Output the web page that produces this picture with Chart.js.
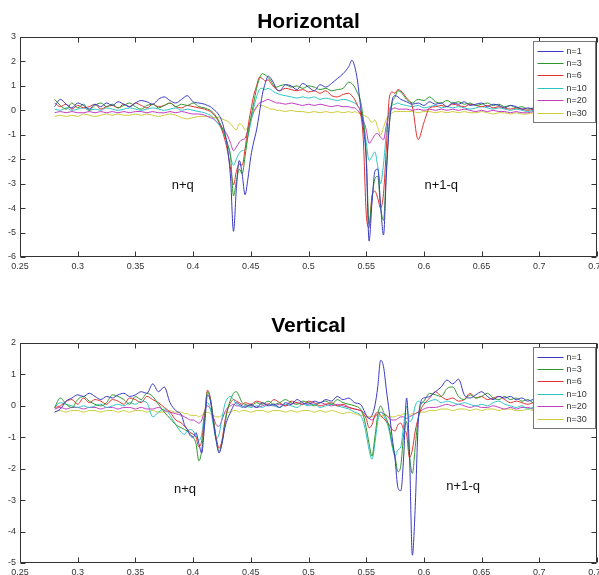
<!DOCTYPE html>
<html><head><meta charset="utf-8">
<script src="https://cdn.jsdelivr.net/npm/chart.js@4.4.1/dist/chart.umd.min.js"></script>
<style>
html,body{margin:0;padding:0;background:#fff;width:599px;height:575px;overflow:hidden}
.box{position:absolute;left:0;width:599px}
canvas{display:block}
</style></head><body>
<div class="box" style="top:0;height:290px"><canvas id="c1" width="599" height="290"></canvas></div>
<div class="box" style="top:290px;height:285px"><canvas id="c2" width="599" height="285"></canvas></div>
<script>
// ---------- shared ----------
const seriesLabels = ['n=1','n=3','n=6','n=10','n=20','n=30'];
const seriesColors = ['#3a3ac4','#2e962e','#e03030','#2ec4c4','#c23cc2','#cccc3a'];
const xTickMin = 0.25, xTickMax = 0.75, xTickStep = 0.05;

// ---------- Horizontal ----------
const xH = [0.280,0.285,0.290,0.295,0.300,0.305,0.310,0.315,0.320,0.325,0.330,0.335,0.340,0.345,0.350,0.355,0.360,0.365,0.370,0.375,0.380,0.385,0.390,0.395,0.400,0.405,0.410,
0.4125,0.415,0.4175,0.420,0.4225,0.425,0.4275,0.430,0.4325,0.435,0.4375,0.440,0.4425,0.445,0.4475,0.450,0.4525,0.455,0.4575,0.460,0.4625,0.465,0.4675,0.470,0.4725,
0.475,0.480,0.485,0.490,0.495,0.500,0.505,0.510,0.515,0.520,0.525,0.530,0.535,
0.5375,0.540,0.5425,0.545,0.5475,0.550,0.5525,0.555,0.5575,0.560,0.5625,0.565,0.5675,0.570,0.5725,0.575,0.5775,0.580,
0.585,0.590,0.595,0.600,0.605,0.610,0.615,0.620,0.625,0.630,0.635,0.640,0.645,0.650,0.655,0.660,0.665,0.670,0.675,0.680,0.685,0.690,0.695,0.700,0.705,0.710,0.715,0.720];
const hN1 = [0.15,0.45,0.25,0.10,0.30,0.20,0.05,0.25,0.15,0.30,0.20,0.35,0.25,0.15,0.30,0.40,0.35,0.25,0.45,0.55,0.40,0.30,0.45,0.60,0.35,0.30,0.25,
0.20,0.15,0.05,-0.05,-0.20,-0.45,-0.90,-1.60,-2.80,-4.95,-3.20,-2.05,-2.60,-3.45,-2.80,-1.90,-1.30,-0.80,-0.10,0.65,1.10,1.40,1.30,1.10,0.85,
0.80,1.05,1.00,0.85,1.10,0.95,0.80,1.05,0.95,1.10,1.30,1.50,1.80,
2.05,1.80,1.20,0.20,-0.70,-2.00,-5.35,-3.80,-2.50,-2.40,-3.90,-5.10,-2.60,-0.60,0.40,0.60,0.55,0.45,
0.35,0.25,0.30,0.20,0.35,0.25,0.30,0.15,0.30,0.25,0.35,0.20,0.25,0.30,0.15,0.25,0.20,0.10,0.20,0.15,0.05,0.10,0.05,0.00,0.05,0.00,-0.05,0.00];
const hN3 = [0.45,0.20,0.05,0.30,0.10,0.25,0.00,0.20,0.30,0.15,0.25,0.10,0.20,0.30,0.15,0.05,0.20,0.25,0.10,0.20,0.30,0.15,0.25,0.20,0.30,0.15,0.10,
0.05,0.00,-0.10,-0.25,-0.45,-0.70,-1.00,-1.40,-1.90,-3.50,-2.90,-2.40,-2.60,-1.90,-1.00,-0.30,0.30,0.90,1.30,1.50,1.45,1.35,1.20,1.00,0.95,
1.00,1.05,0.95,1.00,0.90,1.00,0.95,0.85,0.90,0.80,0.85,0.90,1.15,
1.10,0.95,0.70,0.40,-0.40,-1.80,-4.65,-3.60,-2.80,-2.70,-4.00,-4.50,-2.40,-0.60,0.30,0.55,0.80,0.75,
0.45,0.30,0.45,0.40,0.55,0.35,0.30,0.40,0.30,0.35,0.25,0.30,0.20,0.25,0.30,0.20,0.25,0.15,0.20,0.10,0.15,0.05,0.10,0.00,0.05,-0.05,0.00,0.00];
const hN6 = [0.30,0.15,0.25,0.05,0.20,0.10,0.15,0.25,0.05,0.15,0.20,0.10,0.25,0.15,0.30,0.20,0.10,0.25,0.15,0.20,0.30,0.15,0.10,0.20,0.15,0.10,0.05,
0.00,-0.05,-0.15,-0.30,-0.50,-0.80,-1.20,-1.70,-2.40,-3.05,-2.50,-2.20,-2.25,-1.60,-0.70,0.00,0.60,1.00,1.35,1.30,1.20,1.25,1.10,0.95,0.85,
0.80,0.90,0.85,0.80,0.85,0.75,0.80,0.70,0.80,0.60,0.55,0.65,0.70,
0.60,0.45,0.20,-0.10,-1.20,-4.20,-4.80,-3.50,-3.30,-3.60,-4.00,-3.40,-1.50,0.50,0.75,0.70,0.85,0.80,
0.50,0.15,-1.20,-0.50,0.10,0.15,0.20,0.15,0.25,0.20,0.15,0.25,0.20,0.15,0.20,0.10,0.15,0.10,0.05,0.10,0.05,0.00,0.05,0.00,-0.05,0.00,-0.05,-0.05];
const hN10 = [0.05,0.00,0.10,0.00,0.05,0.10,0.00,0.05,0.00,0.10,0.05,0.00,0.05,0.10,0.05,0.00,0.05,0.10,0.05,0.00,0.05,0.10,0.00,0.05,0.00,-0.05,-0.10,
-0.15,-0.20,-0.30,-0.45,-0.60,-0.80,-1.05,-1.40,-1.90,-2.25,-2.00,-1.75,-1.65,-1.60,-1.10,-0.50,0.10,0.55,0.85,0.90,0.85,0.90,0.85,0.75,0.70,
0.65,0.60,0.55,0.50,0.55,0.50,0.55,0.45,0.50,0.45,0.40,0.45,0.40,
0.35,0.30,0.20,0.00,-0.40,-1.30,-2.05,-1.90,-1.70,-2.30,-3.00,-2.20,-0.90,0.00,0.20,0.25,0.30,0.25,
0.20,0.15,0.20,0.10,0.15,0.20,0.10,0.15,0.10,0.15,0.10,0.05,0.10,0.15,0.10,0.05,0.10,0.05,0.00,0.05,0.00,-0.05,0.00,-0.05,-0.10,-0.05,-0.10,-0.10];
const hN20 = [-0.10,-0.05,-0.10,-0.05,-0.10,-0.10,-0.05,-0.10,-0.05,-0.10,-0.05,-0.10,-0.05,-0.10,-0.05,-0.05,-0.10,-0.05,-0.10,-0.10,-0.05,-0.10,-0.05,-0.10,-0.15,-0.15,-0.20,
-0.25,-0.30,-0.35,-0.45,-0.55,-0.70,-0.85,-1.05,-1.35,-1.65,-1.50,-1.30,-1.20,-1.15,-0.80,-0.40,-0.05,0.15,0.30,0.35,0.40,0.45,0.40,0.35,0.30,
0.30,0.25,0.30,0.25,0.20,0.25,0.20,0.25,0.20,0.15,0.20,0.15,0.15,
0.10,0.10,0.00,-0.15,-0.40,-0.80,-1.35,-1.20,-1.00,-0.95,-1.10,-1.20,-0.60,-0.10,0.05,0.10,0.05,0.05,
0.05,0.00,0.05,0.00,0.05,0.00,0.05,0.00,0.05,0.00,0.05,0.00,-0.05,0.00,-0.05,0.00,-0.05,-0.05,-0.10,-0.05,-0.10,-0.10,-0.05,-0.10,-0.10,-0.15,-0.10,-0.10];
const hN30 = [-0.25,-0.20,-0.25,-0.20,-0.25,-0.15,-0.20,-0.25,-0.20,-0.15,-0.20,-0.15,-0.20,-0.20,-0.15,-0.20,-0.15,-0.20,-0.25,-0.20,-0.15,-0.20,-0.30,-0.35,-0.30,-0.25,-0.25,
-0.25,-0.25,-0.30,-0.30,-0.30,-0.35,-0.40,-0.45,-0.55,-0.70,-0.80,-0.55,-0.60,-0.80,-0.70,-0.40,-0.10,0.10,0.20,0.20,0.15,0.10,0.05,0.05,0.00,
0.00,-0.05,0.00,-0.05,-0.05,-0.10,-0.05,-0.10,-0.05,-0.10,-0.05,-0.10,-0.05,
-0.10,-0.05,-0.10,-0.15,-0.20,-0.25,-0.35,-0.50,-0.40,-0.70,-1.00,-0.70,-0.35,-0.20,-0.10,-0.05,-0.05,-0.05,
-0.05,-0.05,-0.10,-0.05,-0.05,-0.10,-0.05,-0.10,-0.05,-0.10,-0.05,-0.10,-0.10,-0.05,-0.10,-0.15,-0.10,-0.10,-0.15,-0.10,-0.15,-0.15,-0.10,-0.15,-0.15,-0.10,-0.15,-0.15];
const yTicksH = {min:-6, max:3, step:1};
const notesH = [{text:'n+q', x:0.391, y:-3.07},{text:'n+1-q', x:0.615, y:-3.07}];

// ---------- Vertical ----------
const xV = [0.280,0.285,0.290,0.295,0.300,0.305,0.310,0.315,0.320,0.325,0.330,0.335,0.340,0.345,0.350,0.355,0.360,0.365,0.370,0.375,0.380,0.385,0.390,
0.3925,0.395,0.3975,0.400,0.4025,0.405,0.4075,0.410,0.4125,0.415,0.4175,0.420,0.4225,0.425,0.4275,0.430,0.4325,0.435,0.4375,0.440,0.4425,0.445,
0.450,0.455,0.460,0.465,0.470,0.475,0.480,0.485,0.490,0.495,0.500,0.505,0.510,0.515,0.520,0.525,0.530,0.535,0.540,0.545,
0.5475,0.550,0.5525,0.555,0.5575,0.560,0.5625,0.565,0.5675,0.570,0.5725,0.575,0.5775,0.580,0.5825,0.585,0.5875,0.590,0.5925,0.595,0.5975,0.600,
0.605,0.610,0.615,0.620,0.625,0.630,0.635,0.640,0.645,0.650,0.655,0.660,0.665,0.670,0.675,0.680,0.685,0.690,0.695,0.700,0.705,0.710,0.715,0.720];
const vN1 = [-0.20,-0.10,0.15,0.25,0.35,0.30,0.40,0.30,0.20,0.30,0.25,0.35,0.40,0.30,0.35,0.45,0.40,0.70,0.45,0.60,0.10,-0.15,-0.30,
-0.60,-0.75,-0.95,-1.00,-0.85,-1.20,-1.50,-0.60,0.35,0.15,-0.50,-1.10,-1.50,-1.20,-0.70,-0.40,-0.20,0.00,0.10,0.05,0.00,-0.05,
0.05,-0.05,0.10,0.00,0.05,-0.05,0.10,0.05,0.20,0.10,0.05,0.15,0.10,0.20,0.15,0.30,0.20,0.25,0.10,0.05,
-0.10,-0.30,-0.40,-0.30,0.00,0.60,1.45,1.25,0.50,-0.20,-1.00,-1.70,-2.60,-2.70,-1.60,0.25,-1.50,-4.75,-3.20,-0.60,0.15,0.25,
0.30,0.45,0.60,0.82,0.70,0.85,0.35,0.25,0.35,0.45,0.30,0.20,0.30,0.25,0.30,0.20,0.25,0.15,0.20,0.15,0.10,0.15,0.05,0.10];
const vN3 = [-0.05,0.25,0.05,-0.05,0.20,0.30,0.15,0.05,0.00,0.10,0.35,0.30,0.20,0.05,0.30,0.20,0.40,0.30,0.05,-0.20,-0.40,-0.60,-0.70,
-0.75,-0.80,-0.90,-1.00,-1.20,-1.75,-1.40,-0.40,0.45,0.20,-0.40,-1.10,-1.45,-1.20,-0.60,-0.10,0.20,0.40,0.45,0.30,0.10,0.05,
0.00,0.10,0.05,0.15,0.05,0.10,0.20,0.10,0.05,0.15,0.10,0.00,0.10,0.15,0.05,0.20,0.10,0.05,0.00,-0.10,
-0.30,-0.70,-1.20,-1.60,-1.00,-0.30,0.00,-0.20,-0.40,-0.70,-1.20,-1.60,-2.10,-1.90,-0.90,-0.50,-1.60,-2.15,-1.30,-0.40,0.05,0.15,
0.40,0.35,0.30,0.55,0.60,0.30,0.20,0.35,0.25,0.30,0.40,0.25,0.20,0.30,0.20,0.25,0.15,0.20,0.10,0.15,0.05,0.10,0.05,0.05];
const vN6 = [-0.05,0.00,0.15,0.20,0.05,0.25,0.10,0.20,0.15,0.05,0.20,0.15,0.05,0.25,0.20,0.10,0.30,0.20,0.10,-0.05,-0.20,-0.45,-0.55,
-0.65,-0.75,-0.85,-0.90,-1.00,-1.30,-1.10,-0.30,0.50,0.25,-0.40,-1.00,-1.35,-1.10,-0.50,-0.10,0.10,0.20,0.15,0.10,0.05,0.10,
0.05,0.15,0.10,0.05,0.20,0.10,0.00,0.15,0.10,0.05,0.15,0.10,0.00,0.05,0.10,0.00,0.05,-0.05,-0.10,-0.15,
-0.25,-0.40,-0.70,-0.60,-0.30,-0.20,-0.30,-0.40,-0.50,-0.60,-0.75,-0.80,-0.60,-0.55,-0.75,-0.90,-1.65,-1.40,-0.80,-0.40,-0.10,0.05,
0.25,0.45,0.30,0.20,0.25,0.15,0.20,0.40,0.25,0.30,0.20,0.25,0.30,0.20,0.10,0.15,0.10,0.05,0.10,0.05,0.10,0.00,0.05,0.00];
const vN10 = [-0.05,0.10,0.05,0.00,-0.05,0.00,-0.05,0.00,0.05,-0.05,0.00,0.05,0.00,0.10,0.05,0.15,0.10,-0.35,-0.20,-0.10,-0.30,-0.60,-0.85,
-0.90,-0.80,-0.75,-0.80,-0.95,-1.10,-0.90,-0.20,0.10,-0.10,-0.60,-1.05,-0.90,-0.40,0.05,0.25,0.30,0.20,0.05,0.00,-0.05,0.00,
-0.05,0.00,-0.05,0.05,0.00,-0.05,0.05,0.00,-0.05,0.05,0.00,0.05,-0.05,0.00,0.05,0.00,-0.05,-0.10,-0.20,-0.30,
-0.50,-0.90,-1.40,-1.70,-1.20,-0.50,-0.20,-0.30,-0.50,-0.80,-1.30,-1.60,-1.40,-1.30,-0.60,0.00,-0.50,-0.40,0.00,0.15,0.10,0.10,
0.15,0.20,0.10,0.15,0.10,0.05,0.10,0.05,0.00,0.05,0.00,0.10,0.15,0.05,0.00,-0.05,0.00,-0.10,-0.05,-0.10,-0.05,-0.10,-0.05,-0.10];
const vN20 = [-0.10,-0.05,-0.10,-0.05,-0.05,-0.10,-0.05,-0.05,-0.10,-0.05,-0.05,-0.10,-0.05,-0.05,-0.10,-0.05,-0.10,-0.10,-0.05,-0.15,-0.20,-0.25,-0.30,
-0.35,-0.40,-0.45,-0.45,-0.50,-0.55,-0.45,-0.15,0.00,-0.10,-0.35,-0.60,-0.65,-0.45,-0.20,-0.05,0.00,0.05,0.00,0.00,-0.05,0.00,
0.00,-0.05,0.00,0.05,0.00,0.05,0.00,0.05,0.10,0.05,0.10,0.05,0.10,0.05,0.00,0.05,0.00,-0.05,-0.10,-0.15,
-0.20,-0.30,-0.40,-0.45,-0.35,-0.25,-0.20,-0.25,-0.30,-0.40,-0.45,-0.45,-0.40,-0.35,-0.35,-0.40,-0.35,-0.30,-0.25,-0.20,-0.15,-0.10,
-0.05,-0.05,0.00,0.05,0.00,0.05,0.00,-0.05,0.00,-0.05,-0.05,0.00,-0.05,-0.10,-0.05,-0.10,-0.05,-0.05,-0.10,-0.05,-0.10,-0.05,-0.10,-0.05];
const vN30 = [-0.20,-0.15,-0.20,-0.15,-0.15,-0.20,-0.15,-0.15,-0.20,-0.15,-0.15,-0.20,-0.15,-0.20,-0.15,-0.15,-0.20,-0.15,-0.20,-0.20,-0.15,-0.20,-0.20,
-0.25,-0.25,-0.30,-0.30,-0.30,-0.35,-0.30,-0.25,-0.20,-0.25,-0.30,-0.35,-0.35,-0.30,-0.25,-0.20,-0.20,-0.15,-0.15,-0.20,-0.15,-0.15,
-0.20,-0.15,-0.15,-0.20,-0.15,-0.15,-0.20,-0.15,-0.20,-0.15,-0.15,-0.20,-0.15,-0.20,-0.15,-0.20,-0.25,-0.20,-0.25,-0.30,
-0.30,-0.35,-0.35,-0.35,-0.30,-0.30,-0.35,-0.30,-0.30,-0.35,-0.35,-0.35,-0.30,-0.30,-0.25,-0.25,-0.30,-0.25,-0.25,-0.20,-0.20,-0.20,
-0.15,-0.15,-0.10,-0.10,-0.15,-0.10,-0.10,-0.15,-0.10,-0.15,-0.10,-0.10,-0.15,-0.10,-0.10,-0.15,-0.15,-0.10,-0.15,-0.15,-0.20,-0.15,-0.15,-0.20];
const yTicksV = {min:-5, max:2, step:1};
const notesV = [{text:'n+q', x:0.393, y:-2.67},{text:'n+1-q', x:0.634, y:-2.56}];

// ---------- plugin: frame, inward ticks, legend, notes, title ----------
const matlabPlugin = {
  id: 'matlab',
  afterDatasetsDraw(chart, args, o) {
    const {ctx, chartArea: a, scales: {x, y}} = chart;
    const L = Math.round(a.left) + 0.5, R = Math.round(a.right) - 0.5;
    const T = Math.round(a.top) + 0.5, B = Math.round(a.bottom) - 0.5;
    ctx.save();
    ctx.strokeStyle = '#333'; ctx.lineWidth = 1;
    ctx.beginPath();
    ctx.rect(L, T, R - L, B - T);
    x.ticks.forEach(t => {
      const px = Math.round(x.getPixelForValue(t.value)) + 0.5;
      ctx.moveTo(px, B); ctx.lineTo(px, B - 5);
      ctx.moveTo(px, T); ctx.lineTo(px, T + 5);
    });
    y.ticks.forEach(t => {
      const py = Math.round(y.getPixelForValue(t.value)) + 0.5;
      ctx.moveTo(L, py); ctx.lineTo(L + 5, py);
      ctx.moveTo(R, py); ctx.lineTo(R - 5, py);
    });
    ctx.stroke();
    // notes
    ctx.fillStyle = '#111';
    ctx.font = '13px "Liberation Sans", Arial, sans-serif';
    ctx.textAlign = 'center'; ctx.textBaseline = 'middle';
    (o.notes || []).forEach(n => ctx.fillText(n.text, x.getPixelForValue(n.x), y.getPixelForValue(n.y)));
    // legend
    const bw = 62, bh = 81;
    const bx = Math.round(a.right) - 64 + 0.5, by = Math.round(a.top) + 4 + 0.5;
    ctx.fillStyle = '#fff';
    ctx.fillRect(bx, by, bw, bh);
    ctx.strokeStyle = '#777';
    ctx.strokeRect(bx, by, bw, bh);
    ctx.font = '9px "Liberation Sans", Arial, sans-serif';
    ctx.textAlign = 'left'; ctx.textBaseline = 'middle';
    chart.data.datasets.forEach((ds, i) => {
      const ly = Math.round(by + 9 + i * 12.4) + 0.5;
      ctx.strokeStyle = ds.borderColor; ctx.lineWidth = 1;
      ctx.beginPath(); ctx.moveTo(bx + 4, ly); ctx.lineTo(bx + 30, ly); ctx.stroke();
      ctx.fillStyle = '#333';
      ctx.fillText(ds.label, bx + 33, ly);
    });
    // title
    ctx.fillStyle = '#000';
    ctx.font = 'bold 21px "Liberation Sans", Arial, sans-serif';
    ctx.textAlign = 'center'; ctx.textBaseline = 'alphabetic';
    ctx.fillText(o.title, (a.left + a.right) / 2, o.titleY);
    ctx.restore();
  }
};

function makeChart(id, xs, series, yT, notes, title, titleY, padTop, xAxisH) {
  const datasets = series.map((ys, i) => ({
    label: seriesLabels[i],
    data: xs.map((xv, j) => ({x: xv, y: ys[j]})),
    borderColor: seriesColors[i],
    borderWidth: 1,
    pointRadius: 0,
    fill: false,
    cubicInterpolationMode: 'monotone'
  }));
  return new Chart(document.getElementById(id), {
    type: 'line',
    data: {datasets},
    plugins: [matlabPlugin],
    options: {
      responsive: false, animation: false, devicePixelRatio: 1,
      layout: {padding: {top: padTop, left: 0, right: 2, bottom: 0}},
      plugins: {legend: {display: false}, tooltip: {enabled: false}, title: {display: false},
        matlab: {notes, title, titleY}},
      scales: {
        x: {
          type: 'linear', min: xTickMin, max: xTickMax,
          grid: {display: false, drawTicks: false}, border: {display: false},
          ticks: {stepSize: xTickStep, autoSkip: false, maxRotation: 0, padding: 4, color: '#333',
            font: {size: 9, family: '"Liberation Sans", Arial, sans-serif'},
            callback: v => String(Number(v.toFixed(2)))},
          afterFit: s => { s.height = xAxisH; s.paddingLeft = 0; s.paddingRight = 0; }
        },
        y: {
          type: 'linear', min: yT.min, max: yT.max,
          grid: {display: false, drawTicks: false}, border: {display: false},
          ticks: {stepSize: yT.step, padding: 4, color: '#333',
            font: {size: 9, family: '"Liberation Sans", Arial, sans-serif'}},
          afterFit: s => { s.width = 20; s.paddingTop = 0; s.paddingBottom = 0; }
        }
      }
    }
  });
}

makeChart('c1', xH, [hN1, hN3, hN6, hN10, hN20, hN30], yTicksH, notesH, 'Horizontal', 28, 37, 33);
makeChart('c2', xV, [vN1, vN3, vN6, vN10, vN20, vN30], yTicksV, notesV, 'Vertical', 42, 53, 12);
</script>
</body></html>
